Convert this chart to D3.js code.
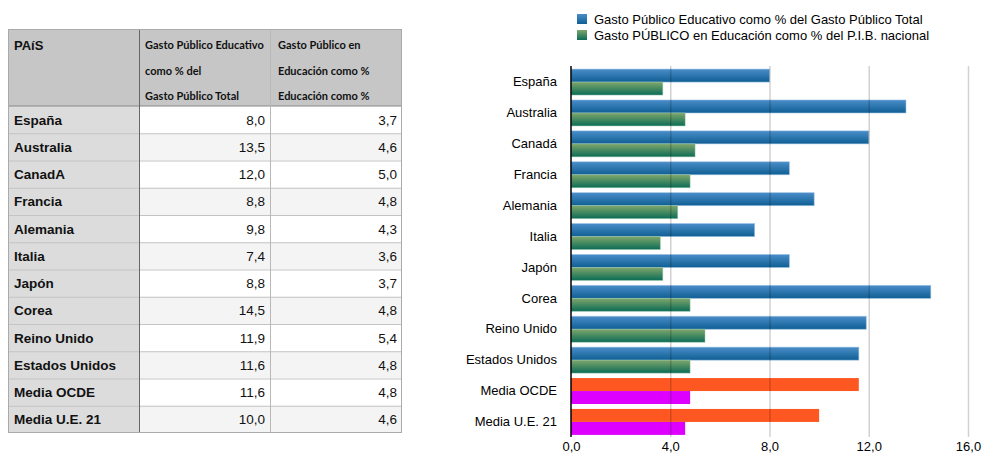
<!DOCTYPE html>
<html>
<head>
<meta charset="utf-8">
<script src="https://cdn.jsdelivr.net/npm/d3@7"></script>
<style>
  body { margin: 0; background: #fff; }
  svg text { font-family: "Liberation Sans", Arial, sans-serif; }
  .hdr { font-family: Lato, "Liberation Sans", sans-serif !important; font-weight: bold; font-size: 11px; }
</style>
</head>
<body>
<svg id="chart" width="1001" height="455"></svg>
<script>
// data
const paises = ["España", "Australia", "Canadá", "Francia", "Alemania", "Italia",
  "Japón", "Corea", "Reino Unido", "Estados Unidos", "Media OCDE", "Media U.E. 21"];
const gastoTotal = [8.0, 13.5, 12.0, 8.8, 9.8, 7.4, 8.8, 14.5, 11.9, 11.6, 11.6, 10.0];
const gastoPIB = [3.7, 4.6, 5.0, 4.8, 4.3, 3.6, 3.7, 4.8, 5.4, 4.8, 4.8, 4.6];
const medias = ["Media OCDE", "Media U.E. 21"];
const xTicks = [0, 4, 8, 12, 16];
const serieNombres = ["Gasto Público Educativo como % del Gasto Público Total",
  "Gasto PÚBLICO en Educación como % del P.I.B. nacional"];
const cabeceras = [["PAíS"],
  ["Gasto Público Educativo", "como % del", "Gasto Público Total"],
  ["Gasto Público en", "Educación como %", "Educación como %"]];

const fmt = v => v.toFixed(1).replace(".", ",");
const svg = d3.select("#chart");

// ---------- table ----------
const cols = [8, 139, 270, 402];
const tRow = d3.scaleBand().domain(d3.range(paises.length)).range([106, 433]);
const tab = svg.append("g");

tab.append("rect").attr("x", cols[0]).attr("y", 29).attr("width", cols[3] - cols[0]).attr("height", 77)
  .attr("fill", "#c6c6c6");
tab.append("rect").attr("x", cols[0]).attr("y", 106).attr("width", cols[1] - cols[0]).attr("height", 327)
  .attr("fill", "#dcdcdc");
tab.selectAll(".fila").data(paises).join("rect")
  .attr("x", cols[1]).attr("y", (d, i) => tRow(i))
  .attr("width", cols[3] - cols[1]).attr("height", tRow.bandwidth())
  .attr("fill", (d, i) => i % 2 ? "#f4f4f4" : "#fff");

// grid lines
tab.selectAll(".hl").data(d3.range(1, paises.length)).join("line")
  .attr("x1", cols[0]).attr("x2", cols[3])
  .attr("y1", i => tRow(i) + 0.5).attr("y2", i => tRow(i) + 0.5)
  .attr("stroke", "#c4c4c4");
tab.append("line").attr("x1", cols[0]).attr("x2", cols[3]).attr("y1", 106).attr("y2", 106)
  .attr("stroke", "#888");
tab.append("line").attr("x1", cols[2] + 0.5).attr("x2", cols[2] + 0.5).attr("y1", 29).attr("y2", 433)
  .attr("stroke", "#b8b8b8");
tab.append("line").attr("x1", cols[1] + 0.5).attr("x2", cols[1] + 0.5).attr("y1", 29).attr("y2", 433)
  .attr("stroke", "#666");
tab.append("rect").attr("x", cols[0] + 0.5).attr("y", 29.5).attr("width", cols[3] - cols[0] - 1).attr("height", 403)
  .attr("fill", "none").attr("stroke", "#aaa");

// header text
tab.append("text").attr("x", 14).attr("y", 50).attr("font-weight", "bold").attr("font-size", 13)
  .attr("fill", "#111").text(cabeceras[0][0]);
[1, 2].forEach(c => {
  cabeceras[c].forEach((l, j) => {
    tab.append("text").attr("class", "hdr").attr("x", cols[c] + (c === 1 ? 6 : 8))
      .attr("y", 49 + j * 25.5).attr("fill", "#111").text(l);
  });
});

// rows (the source table shows "CanadA")
const filas = tab.selectAll(".tr").data(paises).join("g")
  .attr("transform", (d, i) => `translate(0,${tRow(i) + tRow.bandwidth() / 2 + 5})`);
filas.append("text").attr("x", 14).attr("font-weight", "bold").attr("font-size", 13.5).attr("fill", "#111")
  .text(d => d === "Canadá" ? "CanadA" : d);
filas.append("text").attr("x", 265).attr("text-anchor", "end").attr("font-size", 13.5).attr("fill", "#111")
  .text((d, i) => fmt(gastoTotal[i]));
filas.append("text").attr("x", 397).attr("text-anchor", "end").attr("font-size", 13.5).attr("fill", "#111")
  .text((d, i) => fmt(gastoPIB[i]));

// ---------- bar chart ----------
const x = d3.scaleLinear().domain([0, 16]).range([571, 968]);
const y = d3.scaleBand().domain(paises).range([66, 438]).paddingInner(0.16).paddingOuter(0.1);
const ySub = d3.scaleBand().domain([0, 1]).range([0, y.bandwidth()]);

const defs = svg.append("defs");
const grad = (id, c1, c2) => {
  const g = defs.append("linearGradient").attr("id", id).attr("x1", 0).attr("x2", 0).attr("y1", 0).attr("y2", 1);
  g.append("stop").attr("offset", 0).attr("stop-color", c1);
  g.append("stop").attr("offset", 1).attr("stop-color", c2);
};
grad("gAzul", "#4a8dc9", "#0f5f93");
grad("gVerde", "#7fa66c", "#0b6c56");

const relleno = (d, s) => medias.includes(d) ? (s === 0 ? "#ff5722" : "#dd00ff") : (s === 0 ? "url(#gAzul)" : "url(#gVerde)");
const series = [gastoTotal, gastoPIB];

const barras = svg.append("g");
series.forEach((vals, s) => {
  barras.selectAll(".b" + s).data(paises).join("rect")
    .attr("x", x(0))
    .attr("y", d => y(d) + ySub(s))
    .attr("width", (d, i) => x(vals[i]) - x(0))
    .attr("height", ySub.bandwidth())
    .attr("fill", d => relleno(d, s))
    .attr("stroke", d => medias.includes(d) ? "none" : (s === 0 ? "rgba(150,190,225,0.7)" : "rgba(150,200,170,0.6)"))
    .attr("stroke-width", 0.8);
});

// grid lines (over the bars, semi transparent)
svg.append("g").selectAll("line").data(xTicks.slice(1)).join("line")
  .attr("x1", d => x(d) + 0.5).attr("x2", d => x(d) + 0.5)
  .attr("y1", 66).attr("y2", 437)
  .attr("stroke", "rgba(0,0,0,0.18)").attr("stroke-width", 1.5);
svg.append("line").attr("x1", x(0)).attr("x2", x(0)).attr("y1", 66).attr("y2", 437)
  .attr("stroke", "#000").attr("stroke-width", 1.5);

// axis labels
const xAxis = d3.axisBottom(x).tickValues(xTicks).tickSize(0).tickPadding(0).tickFormat(fmt);
const ax = svg.append("g").attr("transform", "translate(0,442)").call(xAxis);
ax.select(".domain").remove();
ax.selectAll("text").attr("font-size", 13).attr("fill", "#000")
  .attr("font-family", "Liberation Sans, Arial, sans-serif");

const yAxis = d3.axisLeft(y).tickSize(0).tickPadding(0);
const ay = svg.append("g").attr("transform", "translate(557,0)").call(yAxis);
ay.select(".domain").remove();
ay.selectAll("text").attr("font-size", 13).attr("fill", "#000")
  .attr("font-family", "Liberation Sans, Arial, sans-serif");

// legend
const leyenda = svg.append("g").selectAll("g").data(serieNombres).join("g")
  .attr("transform", (d, i) => `translate(577,${14 + i * 16})`);
leyenda.append("rect").attr("width", 10).attr("height", 10)
  .attr("fill", (d, i) => i === 0 ? "url(#gAzul)" : "url(#gVerde)");
leyenda.append("text").attr("x", 17).attr("y", 10).attr("font-size", 13).attr("fill", "#000").text(d => d);
</script>
</body>
</html>
